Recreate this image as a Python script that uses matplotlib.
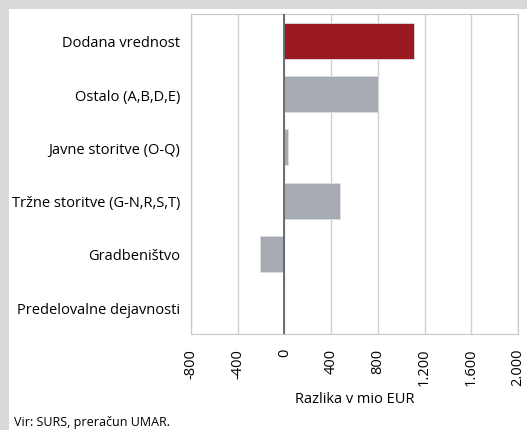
import numpy as np
import matplotlib.pyplot as plt
from matplotlib.patches import Rectangle

categories = ['Dodana vrednost', 'Ostalo (A,B,D,E)', 'Javne storitve (O-Q)',
              'Tržne storitve (G-N,R,S,T)', 'Gradbeništvo', 'Predelovalne dejavnosti']
values = [1107, 799, 28, 479, -209, 0]
colors = ['#9b1a1f', '#a5abb1', '#a5abb1', '#a5abb1', '#a5abb1', '#a5abb1']
xticks = [-800, -400, 0, 400, 800, 1200, 1600, 2000]
xticklabels = ['-800', '-400', '0', '400', '800', '1.200', '1.600', '2.000']

plt.rcParams['font.family'] = ['Open Sans', 'DejaVu Sans']

fig = plt.figure(figsize=(5.27, 4.31), dpi=100)
fig.patch.set_facecolor('#d9d9d9')
# white panel
fig.add_artist(Rectangle((9 / 527, 0), 1, 1 - 10 / 431, transform=fig.transFigure,
                         facecolor='white', edgecolor='none', zorder=0))

ax = fig.add_axes([191 / 527, 1 - 335 / 431, 327 / 527, 320 / 431])
y = np.arange(len(categories))
ax.barh(y, values, height=0.67, color=colors, edgecolor='#dcdfe2', linewidth=0.6, zorder=3)
ax.axvline(0, color='#555a5f', linewidth=1.2, zorder=4)

ax.set_xlim(-800, 2000)
ax.set_ylim(len(categories) - 0.5, -0.5)
ax.set_xticks(xticks)
ax.set_xticklabels(xticklabels, rotation=90, fontsize=10.5)
ax.set_yticks(y)
ax.set_yticklabels(categories, fontsize=10.5)
ax.tick_params(length=0, pad=8)
ax.tick_params(axis='x', pad=10)
ax.grid(axis='x', color='#d0d0d0', linewidth=1, zorder=0)
ax.set_axisbelow(True)
for s in ax.spines.values():
    s.set_color('#c8c8c8')
ax.set_xlabel('Razlika v mio EUR', fontsize=10.5, labelpad=4)

fig.text(14 / 527, 1 - 423 / 431, 'Vir: SURS, preračun UMAR.', fontsize=9, va='center')

fig.savefig('out.png', dpi=100)
